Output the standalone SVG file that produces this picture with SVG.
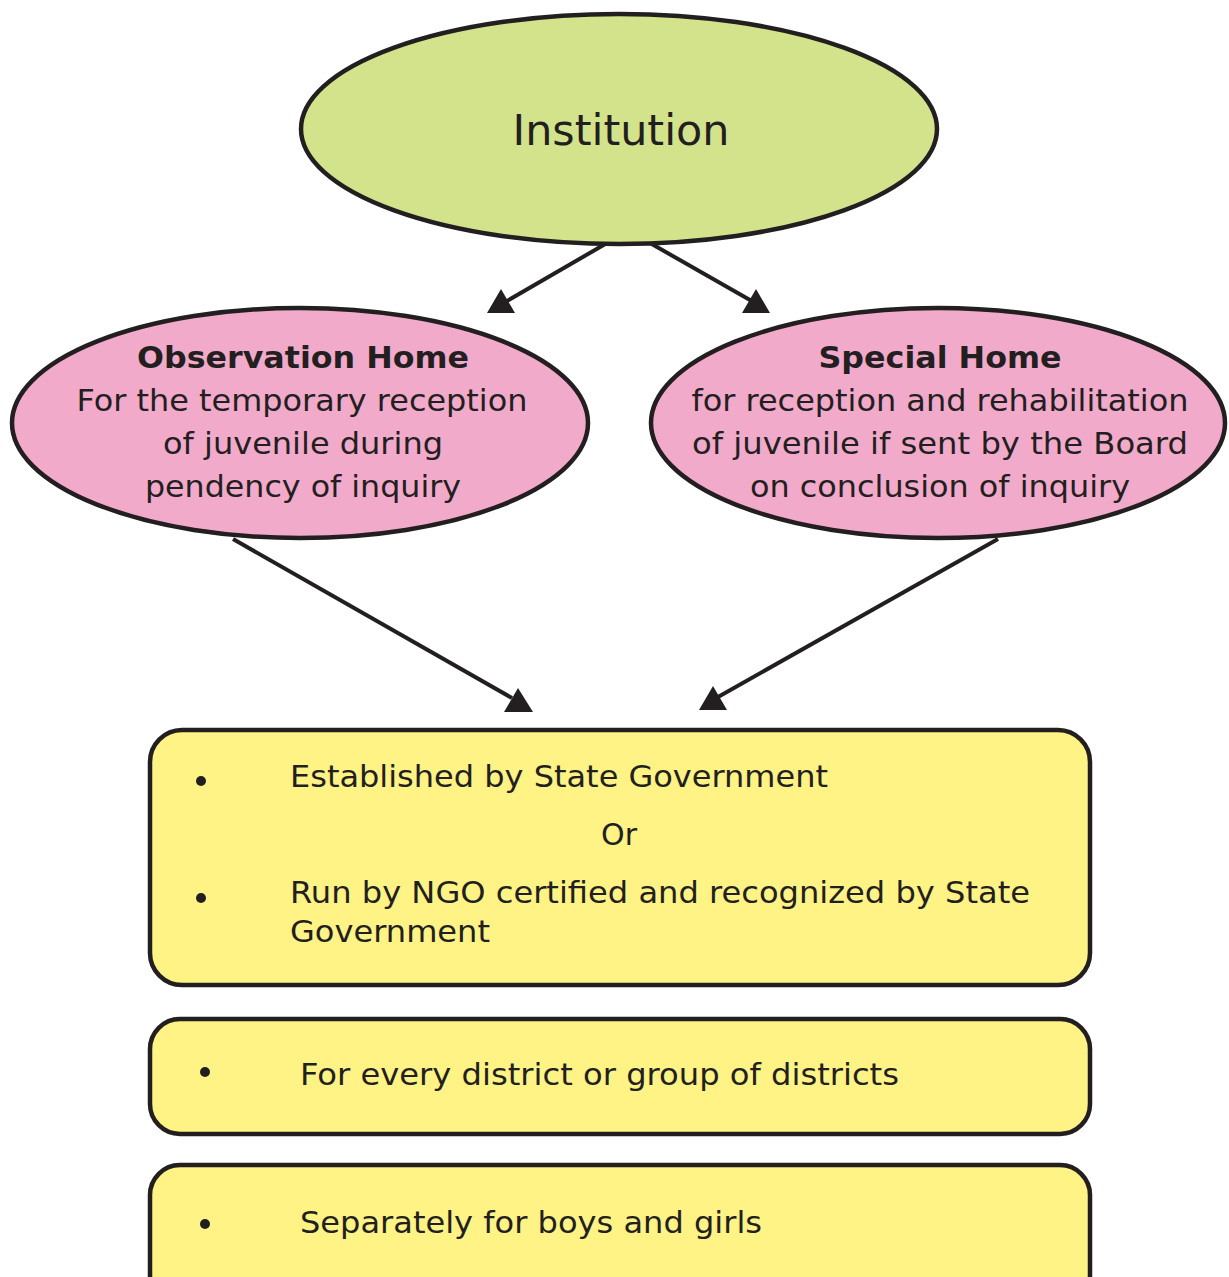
<svg xmlns="http://www.w3.org/2000/svg" width="1229" height="1277" viewBox="0 0 1229 1277">
<style>
.t{font-family:"DejaVu Sans","Verdana","Liberation Sans",sans-serif;fill:#231f20;font-size:30px}
.big{font-size:42px}
.b{font-weight:bold}
.sh{stroke:#231f20;stroke-width:4.5}
.ln{stroke:#231f20;stroke-width:4;fill:none}
.ah{fill:#231f20}
.box{fill:#fef384;stroke:#231f20;stroke-width:4.5}
</style>
<rect width="1229" height="1277" fill="#ffffff"/>
<g id="connectors">
<line class="ln" x1="607" y1="243" x2="500" y2="305"/>
<polygon class="ah" points="487,313 515,313 501,289"/>
<line class="ln" x1="650" y1="243" x2="757" y2="304"/>
<polygon class="ah" points="742,313 770,313 756,289"/>
<line class="ln" x1="233" y1="539" x2="512" y2="698"/>
<polygon class="ah" points="504,712 533,712 518,688"/>
<line class="ln" x1="998" y1="539" x2="718" y2="697"/>
<polygon class="ah" points="699,710 727,710 713,686"/>
</g>
<g id="institution">
<ellipse class="sh" cx="619" cy="129" rx="318" ry="115" fill="#d3e38b"/>
<text class="t big" x="621" y="145" text-anchor="middle" textLength="217" lengthAdjust="spacingAndGlyphs">Institution</text>
</g>
<g id="observation-home">
<ellipse class="sh" cx="300" cy="423" rx="288" ry="115" fill="#f2aacb"/>
<text class="t b" x="303" y="368" text-anchor="middle" textLength="332" lengthAdjust="spacingAndGlyphs">Observation Home</text>
<text class="t" x="302" y="411" text-anchor="middle" textLength="451" lengthAdjust="spacingAndGlyphs">For the temporary reception</text>
<text class="t" x="303" y="454" text-anchor="middle" textLength="280" lengthAdjust="spacingAndGlyphs">of juvenile during</text>
<text class="t" x="303" y="497" text-anchor="middle" textLength="316" lengthAdjust="spacingAndGlyphs">pendency of inquiry</text>
</g>
<g id="special-home">
<ellipse class="sh" cx="938" cy="423" rx="287" ry="115" fill="#f2aacb"/>
<text class="t b" x="940" y="368" text-anchor="middle" textLength="243" lengthAdjust="spacingAndGlyphs">Special Home</text>
<text class="t" x="940" y="411" text-anchor="middle" textLength="497" lengthAdjust="spacingAndGlyphs">for reception and rehabilitation</text>
<text class="t" x="940" y="454" text-anchor="middle" textLength="496" lengthAdjust="spacingAndGlyphs">of juvenile if sent by the Board</text>
<text class="t" x="940" y="497" text-anchor="middle" textLength="380" lengthAdjust="spacingAndGlyphs">on conclusion of inquiry</text>
</g>
<g id="box-established">
<rect class="box" x="150" y="730" width="940" height="255" rx="32" ry="32"/>
<circle cx="201" cy="781" r="5" fill="#231f20"/>
<text class="t" x="290" y="787" textLength="538" lengthAdjust="spacingAndGlyphs">Established by State Government</text>
<text class="t" x="619" y="845" text-anchor="middle" textLength="36" lengthAdjust="spacingAndGlyphs">Or</text>
<circle cx="201" cy="898" r="5" fill="#231f20"/>
<text class="t" x="290" y="903" textLength="740" lengthAdjust="spacingAndGlyphs">Run by NGO certified and recognized by State</text>
<text class="t" x="290" y="942" textLength="200" lengthAdjust="spacingAndGlyphs">Government</text>
</g>
<g id="box-district">
<rect class="box" x="150" y="1019" width="940" height="115" rx="30" ry="30"/>
<circle cx="205" cy="1072" r="5" fill="#231f20"/>
<text class="t" x="300" y="1085" textLength="599" lengthAdjust="spacingAndGlyphs">For every district or group of districts</text>
</g>
<g id="box-separately">
<rect class="box" x="150" y="1165" width="940" height="140" rx="30" ry="30"/>
<circle cx="205" cy="1224" r="5" fill="#231f20"/>
<text class="t" x="300" y="1233" textLength="462" lengthAdjust="spacingAndGlyphs">Separately for boys and girls</text>
</g>
</svg>
